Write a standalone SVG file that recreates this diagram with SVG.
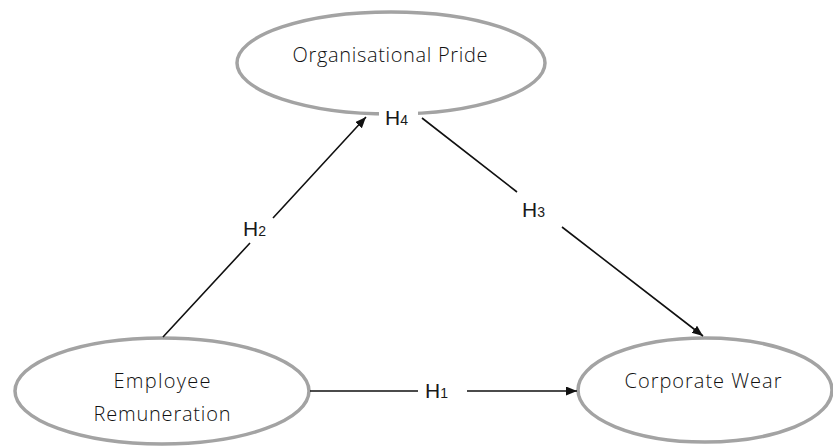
<svg xmlns="http://www.w3.org/2000/svg" width="833" height="447" viewBox="0 0 833 447">
  <style>
    .node { fill: #ffffff; stroke: #a3a3a3; stroke-width: 3.5; }
    .ntext { font-family: "Open Sans", "DejaVu Sans", sans-serif; font-size: 20px; font-weight: 300; fill: #111111; text-anchor: middle; }
    .edge { fill: none; stroke: #111111; stroke-width: 1.6; }
    .lbl { font-family: "Liberation Sans", Arial, sans-serif; font-size: 21px; fill: #1a1a1a; }
    .sub { font-size: 14px; }
  </style>
  <defs>
    <marker id="arrow" markerUnits="userSpaceOnUse" markerWidth="12" markerHeight="10" refX="11" refY="4.5" orient="auto">
      <path d="M0,0 L11,4.5 L0,9 Z" fill="#111111"/>
    </marker>
  </defs>
  <rect width="833" height="447" fill="#ffffff"/>

  <g id="node-organisational-pride">
    <ellipse class="node" cx="391" cy="63" rx="154" ry="51"/>
    <rect x="379" y="104" width="39" height="16" fill="#ffffff"/>
    <text class="ntext" x="390" y="62" textLength="195" lengthAdjust="spacing">Organisational Pride</text>
  </g>

  <g id="node-employee-remuneration">
    <ellipse class="node" cx="162" cy="391" rx="147" ry="53"/>
    <text class="ntext" x="162" y="388" textLength="97" lengthAdjust="spacing">Employee</text>
    <text class="ntext" x="162" y="421" textLength="137" lengthAdjust="spacing">Remuneration</text>
  </g>

  <g id="node-corporate-wear">
    <ellipse class="node" cx="705" cy="390" rx="127" ry="52"/>
    <text class="ntext" x="703" y="388" textLength="157" lengthAdjust="spacing">Corporate Wear</text>
  </g>

  <g id="connectors">
    <path id="edge-h1" class="edge" d="M310,391 L418,391 M467,391 L577,391" marker-end="url(#arrow)"/>
    <path id="edge-h2" class="edge" d="M163,337 L250,243 M273,218 L366,117" marker-end="url(#arrow)"/>
    <path id="edge-h3" class="edge" d="M422,118 L517,192 M562,227 L703,336" marker-end="url(#arrow)"/>
  </g>

  <g id="labels">
    <text class="lbl" x="425" y="398">H<tspan class="sub">1</tspan></text>
    <text class="lbl" x="243" y="236">H<tspan class="sub">2</tspan></text>
    <text class="lbl" x="522" y="217">H<tspan class="sub">3</tspan></text>
    <text class="lbl" x="385" y="125">H<tspan class="sub">4</tspan></text>
  </g>
</svg>
